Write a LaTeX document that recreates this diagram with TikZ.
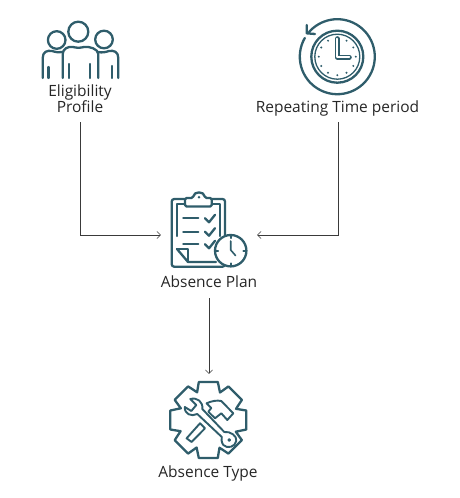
\documentclass[tikz,border=0pt]{standalone}
\usepackage{fontspec}
\setmainfont{Open Sans}
\usepackage{xcolor}
\usetikzlibrary{arrows.meta, positioning, calc}
\definecolor{iconteal}{HTML}{2F5D6B}
\definecolor{wirecol}{HTML}{3A3A3A}
\tikzset{
  icon/.style={draw=iconteal, line width=2.3pt, line join=round, line cap=round},
  thinicon/.style={draw=iconteal, line width=1.3pt},
  label/.style={align=center, text=black!85, font=\fontsize{15.5}{15}\selectfont, inner sep=0pt},
  slot/.style={inner sep=0pt, minimum width=96pt, minimum height=92pt},
  wire/.style={-{Straight Barb[length=3.5pt,width=7pt]}, draw=wirecol, line width=0.55pt}
}
\begin{document}
\begin{tikzpicture}[x=1pt, y=-1pt]
\useasboundingbox (0,0) rectangle (460,498);

% Labels
\node[label] (eligibility) at (80,98.5) {Eligibility\\[0pt]Profile};
\node[label] (repeating) at (337.5,108.5) {Repeating Time period};
\node[label] (planname) at (209,282) {Absence Plan};
\node[label] (typename) at (208,473) {Absence Type};

% Slots the connectors land on
\node[slot] (planicon) at (209,235) {};
\node[slot] (typeicon) at (209,420) {};
\coordinate (eligout) at (80,122);
\coordinate (repout) at (338,122);
\coordinate (planout) at (209,298);

% People
\foreach \x/\y/\r in {78.3/31.7/10, 56.7/40/8.8, 104/39.5/8.8} {
   \draw[icon] (\x,\y) circle (\r);
}
\draw[icon] (42.7,78) -- (42.7,58) .. controls (42.7,52) and (47,50) .. (52,51)
   .. controls (56,52) and (59,53) .. (62.7,52);
\draw[icon] (62.7,78) -- (62.7,54) .. controls (62.7,49) and (68,46) .. (73,47)
   .. controls (77,48) and (80,48) .. (84,47) .. controls (89,46) and (98.3,49) .. (98.3,54) -- (98.3,78);
\draw[icon] (98.3,52) .. controls (102,53) and (106,52) .. (109,51)
   .. controls (114,50) and (118.3,52) .. (118.3,58) -- (118.3,78);
\foreach \x/\y in {48.5/67, 69.3/64, 90/64, 111.7/66} {
   \draw[icon] (\x,\y) -- (\x,78);
}

% Clock
\begin{scope}[shift={(337.3,56.7)}]
\draw[icon] (-150:37.5) arc[start angle=-150, end angle=-501, radius=37.5];
\draw[icon] (-30.6,-31.7) -- (-30.6,-23.4) -- (-22.3,-22.7);
\draw[icon] (0,0) circle (26);
\draw[thinicon] (0,0) circle (22.5);
\foreach \a in {0,30,...,330} {
   \fill[iconteal] (\a:18.5) circle (1.1);
}
\draw[iconteal, line width=5pt, line cap=round, line join=round] (0,-18) -- (0,0.5) -- (12,0.5);
\draw[white, line width=1.8pt, line cap=round, line join=round] (0,-18) -- (0,0.5) -- (12,0.5);
\end{scope}

% Clipboard
\draw[icon, rounded corners=2.5pt] (185,199) -- (171.7,199) -- (171.7,266.7) -- (225,266.7) -- (225,199) -- (211.7,199);
\draw[icon] (177,236) -- (177,204) -- (185,204) (211.7,204) -- (220,204) -- (220,236);
\draw[icon] (177,249) -- (188,262) -- (216,262);
\draw[icon] (177,249) -- (188,249) -- (188,261);
\draw[icon, fill=white, rounded corners=1.5pt] (185,206.5) -- (185,198) -- (193,198) .. controls (194,191) and (204,191) .. (205,198) -- (211.7,198) -- (211.7,206.5) -- cycle;
\fill[iconteal] (199,197.3) circle (1.4);
\foreach \y in {218.3,231.7,244.3} {
   \draw[icon] (183.3,\y) -- (198.3,\y);
   \draw[icon] (205,\y) -- (209,\y+4) -- (215,\y-3.5);
}
\draw[icon, fill=white] (230.7,250.7) circle (15.7);
\draw[icon, line width=1.6pt] (230.7,241) -- (230.7,250) -- (235.5,255.5);
\foreach \a in {0,90,180,270} {
   \draw[icon, line width=1.6pt] ($(230.7,250.7)+(\a:15)$) -- ($(230.7,250.7)+(\a:12.5)$);
}

% Gear
\begin{scope}[shift={(208.3,420)}]
\draw[icon] ([rotate=0]-9.5,-38) \foreach \a in {0,-45,...,-315} {
   -- ([rotate=\a]-9.5,-38) -- ([rotate=\a]9.5,-38) -- ([rotate=\a]11.7,-27.5)
} -- cycle;
% Screwdriver
\draw[icon, line width=1.9pt] (-21.7,18.3) -- (-16.7,22) -- (-3.3,8.3) -- (-8.3,3.3) -- cycle;
% Hammer
\draw[icon, line width=1.9pt] (-1.7,-16.7) .. controls (3,-19) and (9,-20) .. (13,-19) -- (25,-6.7) -- (19,0) -- (13,-6.7) -- (6.7,-1.7) -- (0,-8.3) -- (3,-12) -- cycle;
% Wrench
\draw[icon, line width=1.9pt, fill=white] (-18,-21) .. controls (-11,-23) and (-5,-18) .. (-6,-11)
   -- (16,12) .. controls (22,11) and (29,16) .. (28,21) .. controls (27,27) and (19,29) .. (15,25)
   .. controls (13,22) and (13,19) .. (13.5,17) -- (-11,-6) .. controls (-17,-3) and (-24,-6) .. (-23.5,-13)
   -- (-17,-9) -- (-12,-15) -- cycle;
\draw[icon, line width=1.4pt] (21,20) circle (1.2);
\end{scope}

% Connectors
\draw[wire] (eligout) |- (planicon.west);
\draw[wire] (repout) |- (planicon.east);
\draw[wire] (planout) -- (typeicon.north);
\end{tikzpicture}
\end{document}
